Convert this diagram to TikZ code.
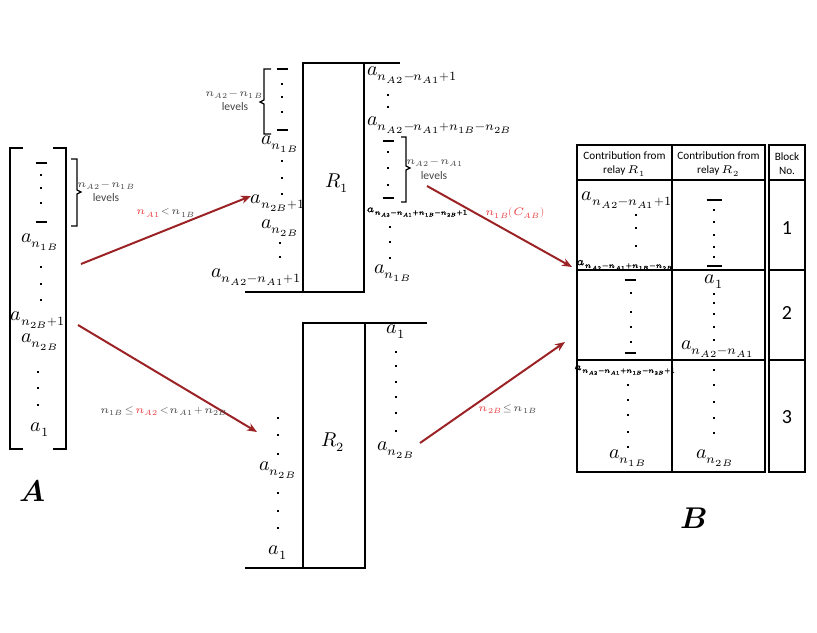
\documentclass[tikz,border=0pt]{standalone}
\usepackage{amsmath}
\usepackage{fontspec}
\usepackage{unicode-math}
\setmathfont{Latin Modern Math}
\setmathfont{Latin Modern Math}[version=bold,FakeBold=2]
\DeclareMathSizes{10}{10}{6.3}{4.7}
\newfontfamily\calib{Carlito}
\usepackage{tikz}
\usetikzlibrary{arrows.meta}

\definecolor{arrowred}{RGB}{155,35,38}
\definecolor{labelred}{RGB}{232,60,64}
\definecolor{labelgray}{RGB}{70,70,70}

% small square dot, short level dash, tighter relation spacing
\newcommand{\sqdot}[2]{\fill[shift={(#1,#2)}] (-1.3,-1.3) rectangle (1.3,1.3);}
\newcommand{\levdash}[3][11]{\draw[line width=0.6pt, shift={(#2,#3)}] (-#1/2,0) -- (#1/2,0);}
\newcommand{\tightmath}{\thickmuskip 2.5mu\relax \medmuskip 2mu\relax}

\tikzset{
  frame/.style={line width=0.7pt},
  flow/.style={draw=arrowred, line width=1pt, -{Stealth[length=5pt,width=4pt]}},
  sym/.style={inner sep=0pt},
  tinysym/.style={inner sep=0pt, font=\fontsize{5.2}{6}\selectfont\boldmath},
  note/.style={inner sep=0pt, align=center, text=labelgray, font=\calib\fontsize{5.8}{7}\selectfont},
  cond/.style={inner sep=0pt, text=labelgray, font=\fontsize{5.4}{6}\selectfont\tightmath},
  head/.style={inner sep=0pt, align=center, font=\calib\fontsize{5.6}{7}\selectfont},
  blockno/.style={inner sep=0pt, font=\calib\fontsize{10}{11}\selectfont},
}

\begin{document}
\begin{tikzpicture}[x=0.5pt, y=-0.5pt]
\useasboundingbox (0,0) rectangle (817,632);

% Matrix A
\draw[line width=0.8pt] (23,148) -- (10,148) -- (10,449) -- (23,449);
\draw[line width=0.8pt] (53,148) -- (66,148) -- (66,449) -- (53,449);
\levdash{41}{163}
\foreach \y in {175,188,203} {\sqdot{41}{\y}}
\levdash{41}{222}
\node[sym] (m1B) at (40,242) {$a_{n_{1B}}$};
\foreach \y in {267,284,300} {\sqdot{41}{\y}}
\node[sym] (m2B1) at (38,320) {$a_{n_{2B}+1}$};
\node[sym] (m2B) at (40,342) {$a_{n_{2B}}$};
\foreach \y in {372,388,405} {\sqdot{38}{\y}}
\node[sym] (m1) at (40,430) {$a_1$};
\draw[line width=0.6pt] (71,159) -- (77,159) -- (77,190) -- (81,192) -- (77,194) -- (77,226) -- (71,226);
\node[cond] (mlev) at (106,186) {$n_{A2}-n_{1B}$};
\node[note] (mlevtxt) at (106,198) {levels};
\node[inner sep=0pt, font=\fontsize{15}{16}\selectfont] (labA) at (33,491) {$\symbfit{A}$};

% Relay R1
\draw[frame] (303,63) rectangle (364,292);
\draw[frame] (364,63) -- (400,63);
\draw[frame] (245,292) -- (303,292);
\node[sym] (r1) at (337,183) {$R_1$};

% R1 input side
\levdash{282}{69}
\foreach \y in {84,97,112} {\sqdot{282}{\y}}
\levdash{282}{130}
\draw[line width=0.6pt] (271,69) -- (264,69) -- (264,100) -- (260,102) -- (264,104) -- (264,134) -- (271,134);
\node[cond] (ilev) at (234,95) {$n_{A2}-n_{1B}$};
\node[note] (ilevtxt) at (235,107) {levels};
\node[sym] (i1B) at (280,144) {$a_{n_{1B}}$};
\foreach \y in {161,178,194} {\sqdot{282}{\y}}
\node[sym] (i2B1) at (278,203) {$a_{n_{2B}+1}$};
\node[sym] (i2B) at (280,228) {$a_{n_{2B}}$};
\foreach \y in {243,257} {\sqdot{280}{\y}}
\node[sym, anchor=east] (iA) at (302,277) {$a_{n_{A2}-n_{A1}+1}$};

% R1 output side
\node[sym, anchor=west] (oA) at (367,75) {$a_{n_{A2}-n_{A1}+1}$};
\foreach \y in {95,107} {\sqdot{388}{\y}}
\node[sym, anchor=west] (oAB) at (367,125) {$a_{n_{A2}-n_{A1}+n_{1B}-n_{2B}}$};
\levdash{388}{141}
\foreach \y in {152,168,185} {\sqdot{388}{\y}}
\levdash{388}{198}
\draw[line width=0.6pt] (401,137) -- (406,137) -- (406,166) -- (410,168) -- (406,170) -- (406,202) -- (401,202);
\node[cond] (olev) at (435,163) {$n_{A2}-n_{A1}$};
\node[note] (olevtxt) at (434,176) {levels};
\node[tinysym, anchor=west] (oAB1) at (366,212) {$a_{n_{A2}-n_{A1}+n_{1B}-n_{2B}+1}$};
\foreach \y in {227,242,258} {\sqdot{390}{\y}}
\node[sym] (o1B) at (393,273) {$a_{n_{1B}}$};

% Relay R2
\draw[frame] (303,323) rectangle (365,568);
\draw[frame] (365,323) -- (427,323);
\draw[frame] (245,568) -- (303,568);
\node[sym] (r2) at (333,442) {$R_2$};

% R2 input side
\foreach \y in {418,435,454} {\sqdot{278}{\y}}
\node[sym] (j2B) at (278,470) {$a_{n_{2B}}$};
\foreach \y in {493,511,528} {\sqdot{278}{\y}}
\node[sym] (j1) at (278,553) {$a_1$};

% R2 output side
\node[sym] (p1) at (396,332) {$a_1$};
\foreach \y in {352,366,382,397,413,431} {\sqdot{396}{\y}}
\node[sym] (p2B) at (396,450) {$a_{n_{2B}}$};

% Arrows
\coordinate (f1s) at (81,264);
\coordinate (f1e) at (251,196);
\coordinate (f2s) at (78,325);
\coordinate (f2e) at (257,432);
\coordinate (f3s) at (427,186);
\coordinate (f3e) at (572,267);
\coordinate (f4s) at (420,443);
\coordinate (f4e) at (565,342);
\draw[flow] (f1s) -- (f1e);
\draw[flow] (f2s) -- (f2e);
\draw[flow] (f3s) -- (f3e);
\draw[flow] (f4s) -- (f4e);
\node[cond] (c1) at (166,213) {$\textcolor{labelred}{n_{A1}} < n_{1B}$};
\node[cond] (c2) at (164,411) {$n_{1B} \leq \textcolor{labelred}{n_{A2}} < n_{A1} + n_{2B}$};
\node[cond, text=labelred] (c3) at (515,213) {$n_{1B}(C_{AB})$};
\node[cond] (c4) at (508,409) {$\textcolor{labelred}{n_{2B}} \leq n_{1B}$};

% Table B
\draw[line width=0.8pt] (577,145) rectangle (765,472);
\draw[line width=0.8pt] (672,145) -- (672,472);
\draw[line width=0.8pt] (769,145) rectangle (805,472);
\foreach \y in {180,270,360} {
  \draw[line width=0.8pt] (577,\y) -- (765,\y);
  \draw[line width=0.8pt] (769,\y) -- (805,\y);
}
\node[head] (h1) at (624.5,164) {Contribution from\\relay $R_1$};
\node[head] (h2) at (718.5,164) {Contribution from\\relay $R_2$};
\node[head] (h3) at (787,164) {Block\\No.};

% Block 1
\node[sym] (b1a) at (627,200) {$a_{n_{A2}-n_{A1}+1}$};
\foreach \y in {215,228,246} {\sqdot{636}{\y}}
\node[tinysym, font=\fontsize{5.6}{6}\selectfont\boldmath] (b1b) at (625,265) {$a_{n_{A2}-n_{A1}+n_{1B}-n_{2B}}$};
\levdash[15]{714}{200}
\foreach \y in {210,222,235,247,257} {\sqdot{714}{\y}}
\levdash[15]{714}{266}
\node[blockno] (n1) at (787,228) {1};

% Block 2
\levdash{630}{280}
\foreach \y in {293,312,327,342} {\sqdot{631}{\y}}
\levdash{630}{353}
\node[sym] (b2a) at (714,282) {$a_1$};
\foreach \y in {294,303,314,327,340} {\sqdot{714}{\y}}
\node[sym] (b2b) at (718,349) {$a_{n_{A2}-n_{A1}}$};
\node[blockno] (n2) at (787,313) {2};

% Block 3
\node[tinysym] (b3a) at (625,370) {$a_{n_{A2}-n_{A1}+n_{1B}-n_{2B}+1}$};
\foreach \y in {385,400,415,432,447} {\sqdot{628}{\y}}
\node[sym] (b3b) at (628,458) {$a_{n_{1B}}$};
\foreach \y in {370,385,402,418,433} {\sqdot{714}{\y}}
\node[sym] (b3c) at (715,458) {$a_{n_{2B}}$};
\node[blockno] (n3) at (787,417) {3};

\node[inner sep=0pt, font=\fontsize{15}{16}\selectfont] (labB) at (694,518) {$\symbfit{B}$};

\end{tikzpicture}
\end{document}
